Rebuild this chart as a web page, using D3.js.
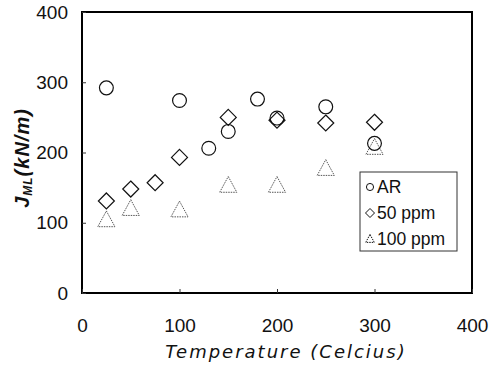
<!DOCTYPE html>
<html>
<head>
<meta charset="utf-8">
<script src="https://cdn.jsdelivr.net/npm/d3@7"></script>
<style>
  body { margin: 0; background: #fff; }
  svg { display: block; }
</style>
</head>
<body>
<svg id="chart" width="500" height="370"></svg>
<script>
/* Data. */
const arTemps = [25, 100, 130, 150, 180, 200, 250, 300]
const arValues = [292, 274, 206, 230, 276, 249, 265, 213]
const ppm50Temps = [25, 50, 75, 100, 150, 200, 250, 300]
const ppm50Values = [131, 148, 157, 193, 250, 246, 242, 243]
const ppm100Temps = [25, 50, 100, 150, 200, 250, 300]
const ppm100Values = [104, 120, 118, 153, 153, 177, 207]
const xTicks = [0, 100, 200, 300, 400]
const yTicks = [0, 100, 200, 300, 400]
const legendLabels = ["AR", "50 ppm", "100 ppm"]

/* Plot box. */
const plotLeft = 82, plotRight = 472, plotTop = 12, plotBottom = 293

const svg = d3.select("#chart")

const xScale = d3.scaleLinear().domain([0, 400]).range([plotLeft, plotRight])
const yScale = d3.scaleLinear().domain([0, 400]).range([plotBottom, plotTop])

/* Frame. */
svg.append("rect")
  .attr("x", plotLeft).attr("y", plotTop)
  .attr("width", plotRight - plotLeft).attr("height", plotBottom - plotTop)
  .attr("fill", "none").attr("stroke", "#000").attr("stroke-width", 2)

/* Axes with small inward ticks. */
const xAxis = d3.axisBottom(xScale).tickValues(xTicks).tickSize(-4).tickPadding(26)
const yAxis = d3.axisLeft(yScale).tickValues(yTicks).tickSize(-4).tickPadding(14)

const gx = svg.append("g").attr("transform", `translate(0, ${plotBottom})`).call(xAxis)
const gy = svg.append("g").attr("transform", `translate(${plotLeft}, 0)`).call(yAxis)

;[gx, gy].forEach(g => {
  g.select(".domain").remove()
  g.selectAll("line").attr("stroke", "#333").attr("stroke-width", 1)
  g.selectAll("text")
    .attr("font-family", "Liberation Sans, Arial, sans-serif")
    .attr("font-size", 19)
    .attr("fill", "#111")
})

/* Axis titles. */
svg.append("text")
  .attr("x", 286).attr("y", 358)
  .attr("text-anchor", "middle")
  .attr("font-family", "DejaVu Sans, sans-serif")
  .attr("font-style", "italic")
  .attr("font-size", 18)
  .attr("letter-spacing", 2)
  .attr("fill", "#111")
  .text("Temperature (Celcius)")

const yTitle = svg.append("text")
  .attr("transform", "translate(29, 158) rotate(-90)")
  .attr("text-anchor", "middle")
  .attr("font-family", "Liberation Sans, Arial, sans-serif")
  .attr("font-style", "italic")
  .attr("font-weight", "bold")
  .attr("font-size", 20)
  .attr("letter-spacing", 1)
  .attr("fill", "#111")
yTitle.append("tspan").text("J")
yTitle.append("tspan").attr("font-size", 12).attr("dy", 3).text("ML")
yTitle.append("tspan").attr("dy", -3).text("(kN/m)")

/* Marker shapes. */
const circle = d3.symbol().type(d3.symbolCircle).size(150)
const diamond = (s) => `M0,${-s}L${s},0L0,${s}L${-s},0Z`
const triangle = (s) => `M0,${-s}L${s * 0.95},${s * 0.75}L${-s * 0.95},${s * 0.75}Z`

const arData = arTemps.map((t, i) => [t, arValues[i]])
const p50Data = ppm50Temps.map((t, i) => [t, ppm50Values[i]])
const p100Data = ppm100Temps.map((t, i) => [t, ppm100Values[i]])

svg.append("g").selectAll("path")
  .data(p100Data).join("path")
  .attr("transform", d => `translate(${xScale(d[0])}, ${yScale(d[1])})`)
  .attr("d", triangle(9))
  .attr("fill", "none").attr("stroke", "#444").attr("stroke-width", 0.9)
  .attr("stroke-dasharray", "1.5,1")

svg.append("g").selectAll("path")
  .data(p50Data).join("path")
  .attr("transform", d => `translate(${xScale(d[0])}, ${yScale(d[1])})`)
  .attr("d", diamond(8))
  .attr("fill", "none").attr("stroke", "#111").attr("stroke-width", 1.2)

svg.append("g").selectAll("path")
  .data(arData).join("path")
  .attr("transform", d => `translate(${xScale(d[0])}, ${yScale(d[1])})`)
  .attr("d", circle)
  .attr("fill", "none").attr("stroke", "#111").attr("stroke-width", 1.2)

/* Legend. */
const legend = svg.append("g")
legend.append("rect")
  .attr("x", 360).attr("y", 172).attr("width", 97).attr("height", 79)
  .attr("fill", "#fff").attr("stroke", "#333").attr("stroke-width", 1)

const legendShapes = [
  d3.symbol().type(d3.symbolCircle).size(40)(),
  diamond(4.5),
  triangle(4.5)
]
legendLabels.forEach((label, i) => {
  const y = 187 + i * 26
  legend.append("path")
    .attr("transform", `translate(370, ${y})`)
    .attr("d", legendShapes[i])
    .attr("fill", "none").attr("stroke", "#111")
    .attr("stroke-width", 1)
    .attr("stroke-dasharray", i === 2 ? "1.5,1" : null)
  legend.append("text")
    .attr("x", 377).attr("y", y + 6)
    .attr("font-family", "Liberation Sans, Arial, sans-serif")
    .attr("font-size", 17.5)
    .attr("fill", "#111")
    .text(label)
})
</script>
</body>
</html>
